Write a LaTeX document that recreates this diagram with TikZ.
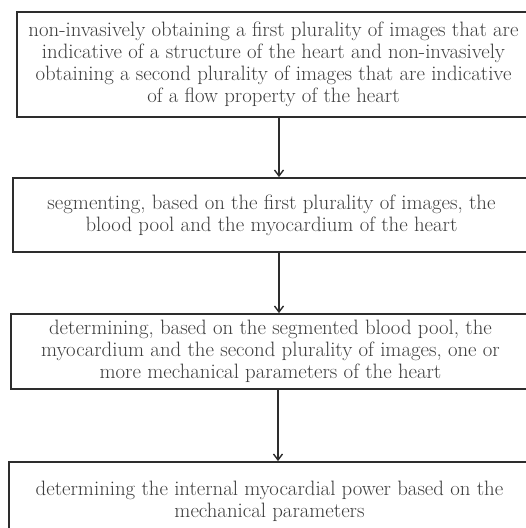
\documentclass[tikz,border=0pt]{standalone}
\usetikzlibrary{arrows.meta}
\definecolor{txt}{RGB}{60,60,60}
\definecolor{ln}{RGB}{45,45,45}
\begin{document}
\begin{tikzpicture}[x=1pt,y=-1pt,
  box/.style={draw=ln, line width=1.8pt, fill=white, rectangle, inner sep=0pt,
    align=center, text=txt, font=\fontsize{20.8}{22}\selectfont},
  arr/.style={draw=ln, line width=1.4pt, -{Straight Barb[length=6pt,width=9pt,line width=1.4pt]}}]
\useasboundingbox (0,0) rectangle (526,528);
\node[box, minimum width=513pt, minimum height=105pt] (b1) at (273.5,64.5)
  {non-invasively obtaining a first plurality of images that are\\
   indicative of a structure of the heart and non-invasively\\
   obtaining a second plurality of images that are indicative\\
   of a flow property of the heart};
\node[box, minimum width=517pt, minimum height=74pt] (b2) at (271.5,215)
  {segmenting, based on the first plurality of images, the\\
   blood pool and the myocardium of the heart};
\node[box, minimum width=519pt, minimum height=75pt] (b3) at (270.5,351.5)
  {determining, based on the segmented blood pool, the\\
   myocardium and the second plurality of images, one or\\
   more mechanical parameters of the heart};
\node[box, minimum width=521pt, minimum height=78pt] (b4) at (269.5,501)
  {determining the internal myocardial power based on the\\
   mechanical parameters};
\coordinate (ax1) at (279,0);
\coordinate (ax2) at (278,0);
\draw[arr] (b1.south -| ax1) -- (b2.north -| ax1);
\draw[arr] (b2.south -| ax1) -- (b3.north -| ax1);
\draw[arr] (b3.south -| ax2) -- (b4.north -| ax2);
\end{tikzpicture}
\end{document}
